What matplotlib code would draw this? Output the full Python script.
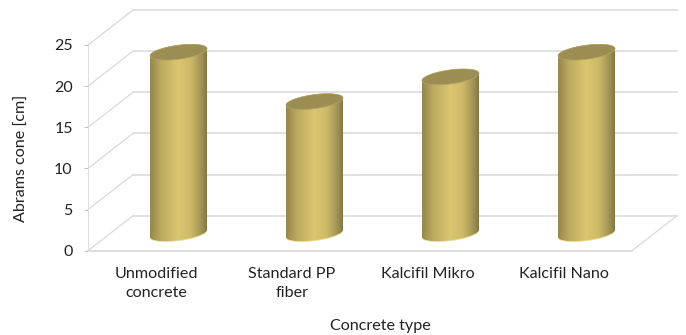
import numpy as np
import matplotlib
matplotlib.use('Agg')
import matplotlib.pyplot as plt
from matplotlib.colors import LinearSegmentedColormap
from matplotlib.patches import Polygon

categories = ['Unmodified\nconcrete', 'Standard PP\nfiber', 'Kalcifil Mikro', 'Kalcifil Nano']
values = [22, 16, 19, 22]
y_ticks = [0, 5, 10, 15, 20, 25]

plt.rcParams['font.family'] = ['Lato', 'DejaVu Sans']

fig = plt.figure(figsize=(6.86, 3.35), dpi=100)
ax = fig.add_axes([88 / 686, (335 - 250.7) / 335, 544 / 686, 205.7 / 335])
ax.set_xlim(0, 4)
ax.set_ylim(0, 25)
for side in ['top', 'right', 'bottom']:
    ax.spines[side].set_visible(False)
ax.spines['left'].set_color('#dddddd')
ax.spines['left'].set_linewidth(0.7)

# depth of the 3d box, in data units
depth_x = 45 / 136
depth_y = 35 / 8.228
grid_color = '#d9d9d9'

# back wall and left wall grid
for tick in y_ticks:
    ax.plot([depth_x, 4 + depth_x], [tick + depth_y, tick + depth_y], color=grid_color, lw=1.1, clip_on=False, zorder=1)
    ax.plot([0, depth_x], [tick, tick + depth_y], color=grid_color, lw=0.9, clip_on=False, zorder=1)

# floor
ax.plot([0, 4], [0, 0], color=grid_color, lw=1.2, clip_on=False, zorder=1)
ax.plot([4, 4 + depth_x], [0, depth_y], color=grid_color, lw=0.9, clip_on=False, zorder=1)

shade = LinearSegmentedColormap.from_list('shade', [
    (0.0, '#94874c'), (0.2, '#bcab60'), (0.5, '#dcc670'), (0.72, '#cdb968'), (0.9, '#a29353'), (1.0, '#847843')])
gradient = np.linspace(0, 1, 256).reshape(1, -1)

half_w = 28.5 / 136
ell_b = 7 / 8.228
ell_s = 3.6 / 8.228
t = np.linspace(0, 2 * np.pi, 120)

for i, val in enumerate(values):
    cx = i + 0.5 + depth_x / 2
    base = depth_y / 2
    top = val + depth_y / 2

    ex = half_w * np.cos(t)
    ey = ell_s * np.cos(t) + ell_b * np.sin(t)

    # cylinder body: lower half of the base ellipse up to the top ellipse
    low = np.sin(t) <= 0
    order = np.argsort(ex[low])
    lower_x = ex[low][order]
    lower_y = ey[low][order]
    body = np.column_stack([
        np.concatenate([cx + lower_x, cx + lower_x[::-1]]),
        np.concatenate([base + lower_y, top + lower_y[::-1]])])

    # thin light rim along the bottom edge
    rim = Polygon(np.column_stack([cx + lower_x, base - 0.06 + lower_y]), closed=True,
                  facecolor='#ecdc8c', edgecolor='#ecdc8c', lw=0.5, zorder=2, clip_on=False)
    ax.add_patch(rim)

    outline = Polygon(body, closed=True, facecolor='none', edgecolor='none', zorder=3, clip_on=False)
    ax.add_patch(outline)
    img = ax.imshow(gradient, extent=[cx - half_w, cx + half_w, 0, 25], aspect='auto', cmap=shade, zorder=3)
    img.set_clip_box(fig.bbox)
    img.set_clip_path(outline)

    cap = Polygon(np.column_stack([cx + ex, top + ey]), closed=True, facecolor='#9c8d52',
                  edgecolor='#aa9b59', lw=0.5, zorder=4, clip_on=False)
    ax.add_patch(cap)

ax.set_xlim(0, 4)
ax.set_ylim(0, 25)

ax.set_xticks([0.5, 1.5, 2.5, 3.5])
ax.set_xticklabels(categories, fontsize=11.6, color='#222222', linespacing=1.45)
ax.tick_params(axis='x', length=0, pad=11.5)
ax.set_yticks(y_ticks)
ax.tick_params(axis='y', length=3, width=0.7, color='#bfbfbf', labelsize=11.5, labelcolor='#222222', pad=8)

fig.text(380 / 686, 1 - 326 / 335, 'Concrete type', fontsize=11.6, color='#222222', ha='center', va='center')
fig.text(22 / 686, 1 - 158 / 335, 'Abrams cone [cm]', fontsize=11.6, color='#222222', ha='center', va='center', rotation=90)

fig.savefig('out.png', dpi=100)
